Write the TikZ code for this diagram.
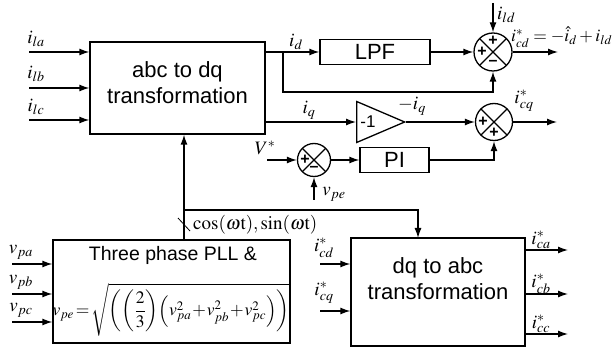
\documentclass[tikz,border=0pt]{standalone}
\usepackage{amsmath}
\usepackage{mathptmx}
\usepackage{fontspec}
\setmainfont{Liberation Serif}
\setsansfont{Liberation Sans}
\usetikzlibrary{calc, arrows.meta, positioning, shapes.geometric}

\begin{document}
\begin{tikzpicture}[
    x=1pt, y=-1pt,
    wire/.style={line width=1.3pt},
    arrow/.style={-{Latex[length=10pt, width=7pt]}, line width=1.3pt},
    block/.style={draw, line width=1.3pt, inner sep=0pt},
    block text/.style={font=\sffamily\fontsize{22}{26}\selectfont, align=center, inner sep=0pt},
    summer/.style={circle, draw, line width=1.3pt, minimum size=38pt, inner sep=0pt,
        path picture={\draw[line width=1.3pt]
            (path picture bounding box.north west) -- (path picture bounding box.south east)
            (path picture bounding box.north east) -- (path picture bounding box.south west);}},
    sign/.style={font=\sffamily\bfseries\fontsize{16}{16}\selectfont, inner sep=0pt},
    label node/.style={font=\fontsize{19}{20}\selectfont, inner sep=0pt}
]
\useasboundingbox (0,0) rectangle (613,347);

% Main blocks
\node[block, minimum width=175pt, minimum height=92pt] (abc) at (177.5,88) {};
\node[block text] (abctext) at (177.5,83) {abc to dq\\transformation};
\node[block, minimum width=110pt, minimum height=25pt] (lpf) at (375,52) {};
\node[block text] (lpftext) at (lpf) {LPF};
\node[block, isosceles triangle, isosceles triangle stretches, minimum width=41pt, minimum height=48pt,
      anchor=west] (gain) at (356,122) {};
\node[sign, font=\sffamily\fontsize{17}{17}\selectfont] (gaintext) at (368,122) {-1};
\node[block, minimum width=69pt, minimum height=25pt] (pi) at (394.5,160) {};
\node[block text] (pitext) at (pi) {PI};
\node[block, minimum width=237pt, minimum height=103pt] (pll) at (171.5,291.5) {};
\node[block text, font=\sffamily\fontsize{19.5}{22}\selectfont] (plltext) at (173,255) {Three phase PLL \&};
\node[label node, font=\fontsize{17.5}{20}\selectfont] (vpeeq) at (171,310)
    {$\medmuskip=1mu \thickmuskip=2mu
      v_{pe}=\sqrt{\left(\left(\dfrac{2}{3}\right)\!\left(v_{pa}^{2}+v_{pb}^{2}+v_{pc}^{2}\right)\right)}$};
\node[block, minimum width=174pt, minimum height=108pt] (dq) at (438,292) {};
\node[block text] (dqtext) at (438,279) {dq to abc\\transformation};

% Summing junctions
\node[summer] (s1) at (493,52) {};
\node[summer, minimum size=37pt] (s2) at (494,122) {};
\node[summer, minimum size=33pt] (s3) at (314,160) {};
\node[sign] (s1t) at ($(s1)+(0,-11)$) {+};
\node[sign] (s1l) at ($(s1)+(-11,0)$) {+};
\node[sign] (s1b) at ($(s1)+(0,11)$) {--};
\node[sign] (s2l) at ($(s2)+(-11,0)$) {+};
\node[sign] (s2b) at ($(s2)+(0,11)$) {+};
\node[sign] (s3l) at ($(s3)+(-9,0)$) {+};
\node[sign] (s3b) at ($(s3)+(0,9)$) {--};

% Free ends
\coordinate (ila) at (29,52);
\coordinate (ilb) at (29,88);
\coordinate (ilc) at (29,120);
\coordinate (br) at (283,52);
\coordinate (fb) at (283,92);
\coordinate (ild) at (493,3);
\coordinate (icd) at (558,52);
\coordinate (icq) at (557,122);
\coordinate (vref) at (267,160);
\coordinate (vpe) at (314,200);
\coordinate (tap) at (184,210);
\coordinate (dqin) at (418,238);
\coordinate (vpa) at (12,264);
\coordinate (vpb) at (12,294);
\coordinate (vpc) at (12,322);
\coordinate (icdin) at (320,264);
\coordinate (icqin) at (320,311);
\coordinate (ica) at (568,250);
\coordinate (icb) at (568,294);
\coordinate (icc) at (568,334);

% Inputs of abc to dq
\draw[arrow] (ila) -- (abc.west |- ila);
\draw[arrow] (ilb) -- (abc.west |- ilb);
\draw[arrow] (ilc) -- (abc.west |- ilc);
\node[label node] (ilalbl) at (36,39) {$i_{la}$};
\node[label node] (ilblbl) at (36,74) {$i_{lb}$};
\node[label node] (ilclbl) at (36,107) {$i_{lc}$};

% d axis
\draw[arrow] (abc.east |- lpf) -- (lpf);
\draw[arrow] (br) -- (fb) -| (s1);
\draw[arrow] (lpf) -- (s1);
\draw[arrow] (ild) -- (s1);
\draw[arrow] (s1) -- (icd);
\node[label node] (idlbl) at (296,42) {$i_{d}$};
\node[label node, anchor=west] (ildlbl) at (497,15) {$i_{ld}$};
\node[label node, font=\fontsize{17.5}{20}\selectfont, anchor=west] (icdlbl) at (511,37) {$i_{cd}^{*}=-\hat{i}_{d}+i_{ld}$};

% q axis
\draw[arrow] (abc.east |- gain.west) -- (gain.west);
\draw[arrow] (gain.apex) -- (s2);
\draw[arrow] (s2) -- (icq);
\node[label node] (iqlbl) at (309,110) {$i_{q}$};
\node[label node] (miqlbl) at (412,106) {$-i_{q}$};
\node[label node] (icqlbl) at (524,101) {$i_{cq}^{*}$};

% Voltage loop
\draw[arrow] (vref) -- (s3);
\draw[arrow] (vpe) -- (s3);
\draw[arrow] (s3) -- (pi);
\draw[arrow] (pi) -| (s2);
\node[label node] (vreflbl) at (265,148) {$V^{*}$};
\node[label node] (vpelbl) at (334,194) {$v_{pe}$};

% Angle from the PLL
\draw[arrow] (pll.north -| tap) -- (abc.south -| tap);
\draw[arrow] (tap) -| (dqin);
\draw[line width=0.8pt] ($(tap)+(-6,8)$) -- ($(tap)+(6,21)$);
\node[label node, anchor=west] (thetalbl) at (193,225) {$\cos(\omega\mathrm{t}),\sin(\omega\mathrm{t})$};

% Inputs of the PLL
\draw[arrow] (vpa) -- (pll.west |- vpa);
\draw[arrow] (vpb) -- (pll.west |- vpb);
\draw[arrow] (vpc) -- (pll.west |- vpc);
\node[label node] (vpalbl) at (21,252) {$v_{pa}$};
\node[label node] (vpblbl) at (21,282) {$v_{pb}$};
\node[label node] (vpclbl) at (21,310) {$v_{pc}$};

% dq to abc
\draw[arrow] (icdin) -- (dq.west |- icdin);
\draw[arrow] (icqin) -- (dq.west |- icqin);
\draw[arrow] (dq.east |- ica) -- (ica);
\draw[arrow] (dq.east |- icb) -- (icb);
\draw[arrow] (dq.east |- icc) -- (icc);
\node[label node] (icdinlbl) at (324,248) {$i_{cd}^{*}$};
\node[label node] (icqinlbl) at (324,293) {$i_{cq}^{*}$};
\node[label node] (icalbl) at (541,240) {$i_{ca}^{*}$};
\node[label node] (icblbl) at (541,284) {$i_{cb}^{*}$};
\node[label node] (icclbl) at (541,324) {$i_{cc}^{*}$};
\end{tikzpicture}
\end{document}
